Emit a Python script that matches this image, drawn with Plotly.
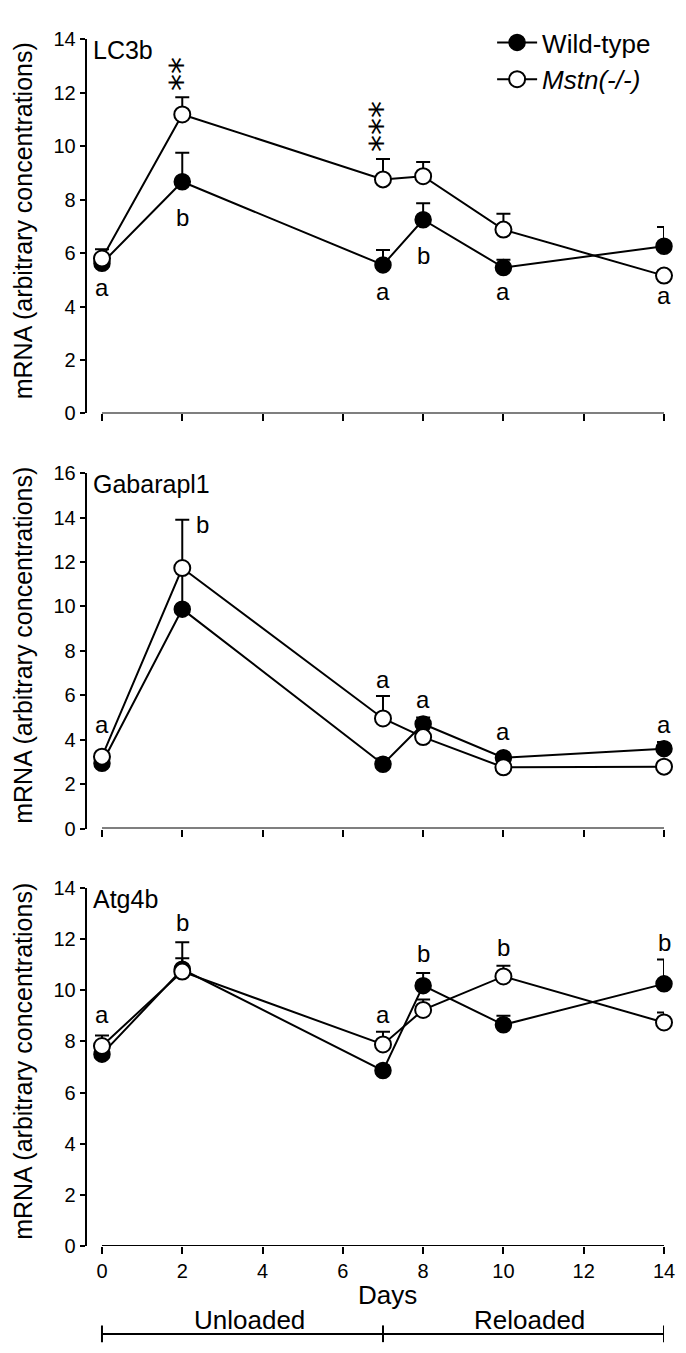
import plotly.graph_objects as go

W, H = 686, 1353
FONT = "Liberation Sans, Arial, sans-serif"

days = [0, 2, 7, 8, 10, 14]
x_ticks = [0, 2, 4, 6, 8, 10, 12, 14]

genes = ["LC3b", "Gabarapl1", "Atg4b"]
y_max = [14, 16, 14]

# LC3b
lc3b_wt = [5.62, 8.67, 5.56, 7.25, 5.46, 6.26]
lc3b_wt_err = [0.30, 1.09, 0.56, 0.62, 0.29, 0.72]
lc3b_ko = [5.80, 11.19, 8.76, 8.88, 6.88, 5.16]
lc3b_ko_err = [0.35, 0.64, 0.76, 0.53, 0.59, 0.18]
lc3b_letters = ["a", "b", "a", "b", "a", "a"]
lc3b_letter_y = [4.70, 7.34, 4.58, 5.90, 4.58, 4.40]
lc3b_letter_x = [0, 2, 7, 8, 10, 14]

# Gabarapl1
gab_wt = [2.94, 9.88, 2.90, 4.71, 3.19, 3.60]
gab_wt_err = [0.15, 1.75, 0.26, 0.29, 0.13, 0.30]
gab_ko = [3.24, 11.73, 4.96, 4.12, 2.76, 2.79]
gab_ko_err = [0.15, 2.17, 1.01, 0.12, 0.08, 0.08]
gab_letters = ["a", "b", "a", "a", "a", "a"]
gab_letter_y = [4.70, 13.70, 6.70, 5.80, 4.35, 4.70]
gab_letter_x = [0, 2.5, 7, 8, 10, 14]

# Atg4b
atg_wt = [7.50, 10.82, 6.86, 10.18, 8.65, 10.25]
atg_wt_err = [0.20, 1.06, 0.19, 0.49, 0.35, 0.95]
atg_ko = [7.82, 10.73, 7.88, 9.23, 10.54, 8.74]
atg_ko_err = [0.41, 0.52, 0.50, 0.41, 0.42, 0.39]
atg_letters = ["a", "b", "a", "b", "b", "b"]
atg_letter_y = [9.06, 12.65, 9.06, 11.43, 11.67, 11.88]
atg_letter_x = [0, 2, 7, 8, 10, 14]

# significance stars (LC3b), centre of each stacked group
star_x = [2, 7]
star_text = ["**", "***"]
star_y = [12.69, 10.72]

wt_series = [lc3b_wt, gab_wt, atg_wt]
wt_errs = [lc3b_wt_err, gab_wt_err, atg_wt_err]
ko_series = [lc3b_ko, gab_ko, atg_ko]
ko_errs = [lc3b_ko_err, gab_ko_err, atg_ko_err]
letters = [lc3b_letters, gab_letters, atg_letters]
letter_y = [lc3b_letter_y, gab_letter_y, atg_letter_y]
letter_x = [lc3b_letter_x, gab_letter_x, atg_letter_x]

# panel pixel boxes (top, bottom)
panel_px = [(20.7, 401.0), (461.7, 823.0), (883.3, 1247.3)]
x_dom = [80 / W, 666.7 / W]

fig = go.Figure()
layout = dict(
    width=W, height=H, autosize=False,
    margin=dict(l=0, r=0, t=0, b=0, pad=0),
    paper_bgcolor="white", plot_bgcolor="white",
    font=dict(family=FONT, color="black"),
    showlegend=True,
)
annotations = []
shapes = []

for i in range(3):
    n = "" if i == 0 else str(i + 1)
    xa, ya = "x" + n, "y" + n
    top, bot = panel_px[i]
    layout["xaxis" + n] = dict(
        domain=x_dom, range=[-0.38, 14.0], anchor=ya,
        showline=False, showgrid=False, zeroline=False,
        ticks="outside", ticklen=7, tickwidth=2, tickcolor="black",
        tickvals=x_ticks, showticklabels=(i == 2),
        tickfont=dict(size=20, family=FONT),
    )
    layout["yaxis" + n] = dict(
        domain=[1 - bot / H, 1 - top / H], range=[0, y_max[i]], anchor=xa,
        showline=True, linewidth=2, linecolor="black",
        showgrid=False, zeroline=False,
        ticks="outside", ticklen=5, tickwidth=2, tickcolor="black",
        dtick=2, tick0=0, tickfont=dict(size=20, family=FONT),
    )
    fig.add_trace(go.Scatter(
        x=days, y=wt_series[i], mode="lines+markers", xaxis=xa, yaxis=ya,
        name="Wild-type", legendgroup="wt", showlegend=(i == 0),
        line=dict(color="black", width=2),
        marker=dict(size=16, color="black", line=dict(color="black", width=1.5)),
        error_y=dict(type="data", symmetric=False, array=wt_errs[i],
                     arrayminus=[0] * len(days), thickness=2, width=7, color="black"),
        cliponaxis=False,
    ))
    fig.add_trace(go.Scatter(
        x=days, y=ko_series[i], mode="lines+markers", xaxis=xa, yaxis=ya,
        name="<i>Mstn(-/-)</i>", legendgroup="ko", showlegend=(i == 0),
        line=dict(color="black", width=2),
        marker=dict(size=16, color="white", line=dict(color="black", width=2)),
        error_y=dict(type="data", symmetric=False, array=ko_errs[i],
                     arrayminus=[0] * len(days), thickness=2, width=7, color="black"),
        cliponaxis=False,
    ))
    # x axis line from day 0 to day 14
    shapes.append(dict(type="line", xref=xa, yref=ya, x0=x_ticks[0], x1=x_ticks[-1],
                       y0=0, y1=0, line=dict(color="black", width=2)))
    # gene label
    annotations.append(dict(text=genes[i], xref="paper", yref="paper",
                            x=84 / W, y=1 - (top + 11) / H, xanchor="left", yanchor="middle",
                            showarrow=False, font=dict(size=25, family=FONT)))
    # y title
    annotations.append(dict(text="mRNA (arbitrary concentrations)", xref="paper", yref="paper",
                            x=15 / W, y=1 - (top + bot) / 2 / H + 6 / H, textangle=-90,
                            xanchor="center", yanchor="middle", showarrow=False,
                            font=dict(size=25, family=FONT)))
    # letters
    for lx, ly, lt in zip(letter_x[i], letter_y[i], letters[i]):
        annotations.append(dict(text=lt, xref=xa, yref=ya, x=lx, y=ly,
                                xanchor="center", yanchor="middle", showarrow=False,
                                font=dict(size=24, family=FONT)))

# stacked asterisks: one rotated text per group so glyphs stack vertically
for sx, sy, st in zip(star_x, star_y, star_text):
    annotations.append(dict(text=st, xref="x", yref="y", x=sx, y=sy, textangle=90,
                            xshift=-12, xanchor="center", yanchor="middle", showarrow=False,
                            font=dict(size=34, family="DejaVu Sans")))

# x title and phase bracket
annotations.append(dict(text="Days", xref="paper", yref="paper", x=385.5 / W, y=1 - 1296.7 / H,
                        xanchor="center", yanchor="middle", showarrow=False,
                        font=dict(size=26, family=FONT)))
phase_names = ["Unloaded", "Reloaded"]
phase_bounds = [0, 7, 14]
phase_label_x = [245 / W, 530 / W]
for name, px in zip(phase_names, phase_label_x):
    annotations.append(dict(text=name, xref="paper", yref="paper", x=px, y=1 - 1322 / H,
                            xanchor="center", yanchor="middle", showarrow=False,
                            font=dict(size=26, family=FONT)))
shapes.append(dict(type="line", xref="x3", yref="paper", x0=phase_bounds[0], x1=phase_bounds[-1],
                   y0=1 - 1336.7 / H, y1=1 - 1336.7 / H, line=dict(color="black", width=2)))
for b in phase_bounds:
    shapes.append(dict(type="line", xref="x3", yref="paper", x0=b, x1=b,
                       y0=1 - 1328 / H, y1=1 - 1345 / H, line=dict(color="black", width=2)))

layout["annotations"] = annotations
layout["shapes"] = shapes
layout["legend"] = dict(x=492 / W, y=1.0, xanchor="left", yanchor="top",
                        font=dict(size=26, family=FONT), bgcolor="rgba(0,0,0,0)",
                        traceorder="grouped", tracegroupgap=0, itemwidth=40)
fig.update_layout(**layout)
fig.write_html("out.html")
